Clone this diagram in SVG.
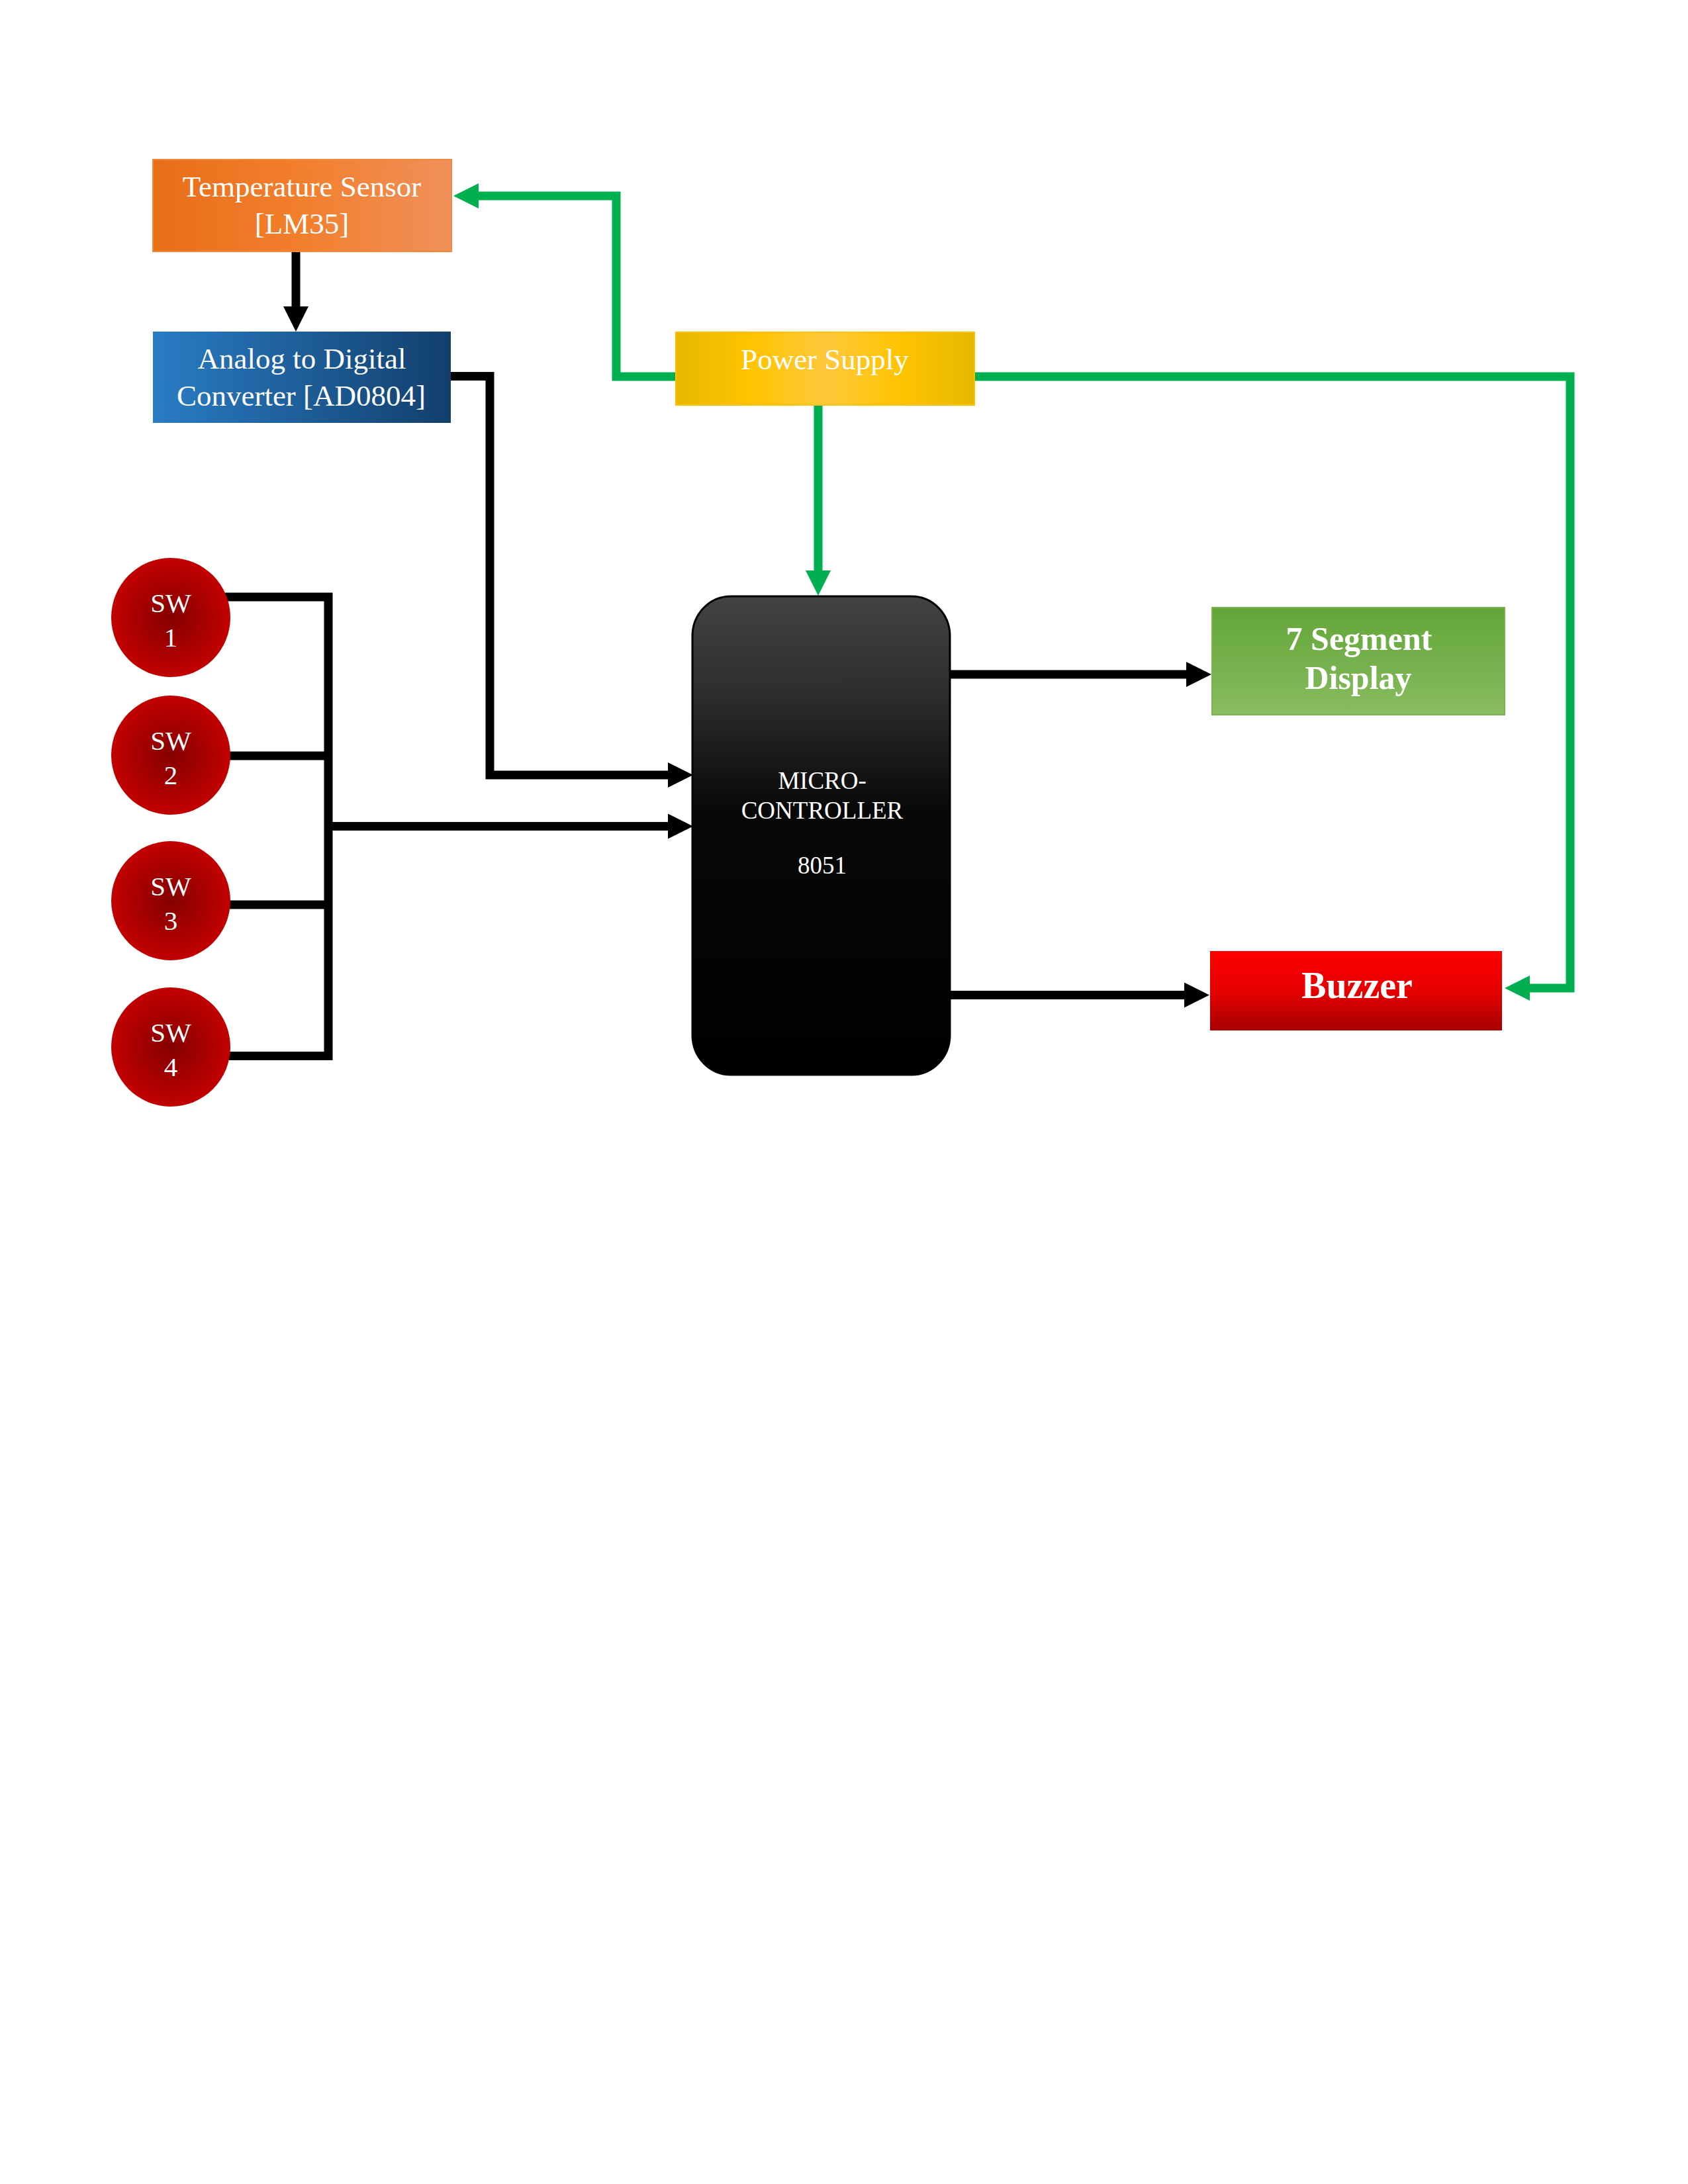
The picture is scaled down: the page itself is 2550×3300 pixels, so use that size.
<svg xmlns="http://www.w3.org/2000/svg" width="2550" height="3300" viewBox="0 0 2550 3300">
<defs>
<style>
.lbl{font-family:"Liberation Serif","Times New Roman",serif;fill:#ffffff;text-anchor:middle}
.blk{fill:none;stroke:#000000;stroke-width:13;stroke-linejoin:miter;stroke-linecap:butt}
.grn{fill:none;stroke:#00b050;stroke-width:13;stroke-linejoin:miter;stroke-linecap:butt}
</style>
<marker id="ab" viewBox="0 -19 38 38" markerWidth="38" markerHeight="38" refX="1" refY="0" orient="auto" markerUnits="userSpaceOnUse"><path d="M0,-19 L38,0 L0,19 z" fill="#000000"/></marker>
<marker id="ag" viewBox="0 -19 38 38" markerWidth="38" markerHeight="38" refX="1" refY="0" orient="auto" markerUnits="userSpaceOnUse"><path d="M0,-19 L38,0 L0,19 z" fill="#00b050"/></marker>
<linearGradient id="gTemp" x1="0" y1="0" x2="1" y2="0"><stop offset="0" stop-color="#e86e19"/><stop offset="0.5" stop-color="#f27f2d"/><stop offset="1" stop-color="#f0905a"/></linearGradient>
<linearGradient id="gAdc" x1="0" y1="0" x2="1" y2="0"><stop offset="0" stop-color="#2a7cc5"/><stop offset="1" stop-color="#123f6c"/></linearGradient>
<radialGradient id="gPs" cx="0.5" cy="0.5" r="0.5" fx="0.5" fy="0.5" gradientTransform="translate(0.5 0.5) scale(1 2.5) translate(-0.5 -0.5)"><stop offset="0" stop-color="#ffca42"/><stop offset="0.6" stop-color="#ffc400"/><stop offset="1" stop-color="#e6b800"/></radialGradient>
<linearGradient id="gPsH" x1="0" y1="0" x2="1" y2="0"><stop offset="0" stop-color="#e6b800"/><stop offset="0.25" stop-color="#ffc400"/><stop offset="0.5" stop-color="#ffc83c"/><stop offset="0.75" stop-color="#ffc400"/><stop offset="1" stop-color="#e6b800"/></linearGradient>
<linearGradient id="gMcu" x1="0" y1="0" x2="0" y2="1"><stop offset="0" stop-color="#434343"/><stop offset="0.2" stop-color="#2e2e2e"/><stop offset="0.45" stop-color="#080808"/><stop offset="1" stop-color="#000000"/></linearGradient>
<linearGradient id="gSeg" x1="0" y1="0" x2="0" y2="1"><stop offset="0" stop-color="#63a538"/><stop offset="1" stop-color="#88bc60"/></linearGradient>
<linearGradient id="gBuz" x1="0" y1="0" x2="0" y2="1"><stop offset="0" stop-color="#ff0000"/><stop offset="0.5" stop-color="#e60000"/><stop offset="1" stop-color="#a80000"/></linearGradient>
<radialGradient id="gSw" cx="0.5" cy="0.5" r="0.5"><stop offset="0" stop-color="#850000"/><stop offset="1" stop-color="#c20000"/></radialGradient>
</defs>
<g id="connectors">
<path class="blk" d="M447,381 V464" marker-end="url(#ab)"/>
<path class="blk" d="M681,568.5 H740 V1171 H1010" marker-end="url(#ab)"/>
<path class="blk" d="M340,902 H496 V1595.5 H340"/>
<path class="blk" d="M340,1142 H496"/>
<path class="blk" d="M340,1367 H496"/>
<path class="blk" d="M496,1248.5 H1010" marker-end="url(#ab)"/>
<path class="blk" d="M1435,1019 H1793" marker-end="url(#ab)"/>
<path class="blk" d="M1435,1503.5 H1790" marker-end="url(#ab)"/>
<path class="grn" d="M1021,569 H931 V296 H722" marker-end="url(#ag)"/>
<path class="grn" d="M1236,612 V863" marker-end="url(#ag)"/>
<path class="grn" d="M1472,569 H2372 V1493 H2310" marker-end="url(#ag)"/>
</g>
<g id="temp-sensor">
<rect x="231" y="241" width="451" height="139" fill="url(#gTemp)" stroke="#f08a3e" stroke-width="2"/>
<text class="lbl" x="456" y="297" font-size="45">Temperature Sensor</text>
<text class="lbl" x="456" y="353" font-size="45">[LM35]</text>
</g>
<g id="adc">
<rect x="231" y="501" width="450" height="138" fill="url(#gAdc)"/>
<text class="lbl" x="456" y="557" font-size="45">Analog to Digital</text>
<text class="lbl" x="455" y="613" font-size="45">Converter [AD0804]</text>
</g>
<g id="power-supply">
<rect x="1021" y="502" width="451" height="110" fill="url(#gPsH)" stroke="#ffc000" stroke-width="2"/>
<text class="lbl" x="1246" y="558" font-size="45">Power Supply</text>
</g>
<g id="microcontroller">
<rect x="1046" y="901" width="389" height="723" rx="58" ry="60" fill="url(#gMcu)" stroke="#000000" stroke-width="3"/>
<text class="lbl" x="1242" y="1192" font-size="37">MICRO-</text>
<text class="lbl" x="1242" y="1237" font-size="37">CONTROLLER</text>
<text class="lbl" x="1242" y="1320" font-size="37">8051</text>
</g>
<g id="seven-segment">
<rect x="1831" y="918" width="442" height="162" fill="url(#gSeg)" stroke="#7cb453" stroke-width="2"/>
<text class="lbl" x="2053" y="982" font-size="50" font-weight="bold">7 Segment</text>
<text class="lbl" x="2052" y="1041" font-size="50" font-weight="bold">Display</text>
</g>
<g id="buzzer">
<rect x="1828" y="1437" width="441" height="120" fill="url(#gBuz)"/>
<text class="lbl" x="2050" y="1508" font-size="56" font-weight="bold">Buzzer</text>
</g>
<g id="sw1">
<circle cx="258" cy="933" r="90" fill="url(#gSw)"/>
<text class="lbl" x="258" y="925" font-size="41">SW</text>
<text class="lbl" x="258" y="977" font-size="41">1</text>
</g>
<g id="sw2">
<circle cx="258" cy="1141" r="90" fill="url(#gSw)"/>
<text class="lbl" x="258" y="1133" font-size="41">SW</text>
<text class="lbl" x="258" y="1185" font-size="41">2</text>
</g>
<g id="sw3">
<circle cx="258" cy="1361" r="90" fill="url(#gSw)"/>
<text class="lbl" x="258" y="1353" font-size="41">SW</text>
<text class="lbl" x="258" y="1405" font-size="41">3</text>
</g>
<g id="sw4">
<circle cx="258" cy="1582" r="90" fill="url(#gSw)"/>
<text class="lbl" x="258" y="1574" font-size="41">SW</text>
<text class="lbl" x="258" y="1626" font-size="41">4</text>
</g>
</svg>
